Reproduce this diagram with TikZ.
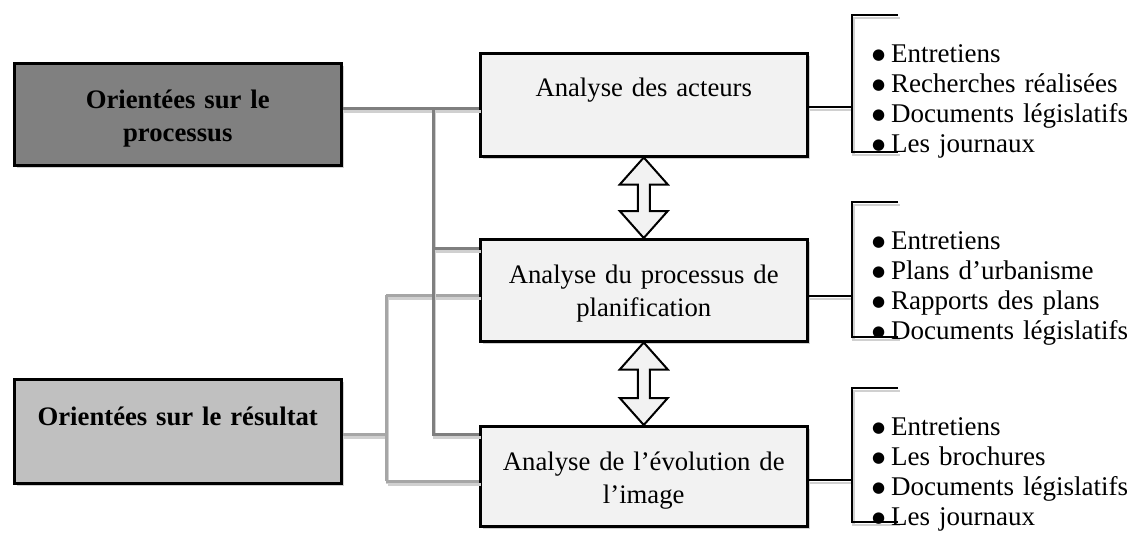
\documentclass[tikz,border=0pt]{standalone}
\usepackage{fontspec}
\setmainfont{Liberation Serif}
\newfontfamily\symfont{DejaVu Sans}
\usetikzlibrary{calc,shadows}

\definecolor{procgray}{HTML}{808080}
\definecolor{resgray}{HTML}{C0C0C0}
\definecolor{boxfill}{HTML}{F2F2F2}
\definecolor{darkline}{HTML}{7F7F7F}
\definecolor{lightline}{HTML}{A6A6A6}
\definecolor{shadowgray}{HTML}{D0D0D0}

\tikzset{
  box/.style={draw=black, line width=2.5pt, inner xsep=5pt, inner ysep=0pt,
    text width=317pt, minimum width=327pt, align=center, anchor=north west,
    node font=\fontsize{26.7}{33}\selectfont,
    general shadow={fill=shadowgray, shadow xshift=3pt, shadow yshift=-3pt}},
  list/.style={inner sep=0pt, text width=300pt, align=left, anchor=base west,
    node font=\fontsize{27}{30}\selectfont},
  lshadow/.style={draw=shadowgray},
  darkconn/.style={draw=darkline, line width=3pt},
  lightconn/.style={draw=lightline, line width=3pt},
  brk/.style={draw=black, line width=2.5pt},
  arrowbox/.style={draw=black, fill=boxfill, line width=2pt}
}

% line with its shadow
\def\sdraw#1#2{\draw[#1, lshadow, transform canvas={shift={(1.5pt,-3pt)}}] #2; \draw[#1] #2;}
\def\bul{\makebox[18pt][l]{\hspace{-1pt}\raisebox{3pt}{\fontsize{15}{0}\symfont ●}}}
\def\dblarrow#1#2{%
  \draw[arrowbox] let \p1=(#1.south), \p2=(#2.north) in
    (\x1,\y1) -- (\x1+24pt,\y1-27pt) -- (\x1+6pt,\y1-27pt) -- (\x1+6pt,\y2+27pt)
    -- (\x1+24pt,\y2+27pt) -- (\x1,\y2) -- (\x1-24pt,\y2+27pt) -- (\x1-6pt,\y2+27pt)
    -- (\x1-6pt,\y1-27pt) -- (\x1-24pt,\y1-27pt) -- cycle;}

\begin{document}
\begin{tikzpicture}[x=1pt,y=-1pt]
\useasboundingbox (0,0) rectangle (1127,533);

% left boxes
\node[box, fill=procgray, font=\bfseries, text height=45pt, text depth=57pt]
  (proc) at (13,62) {Orientées sur le\\processus};
\node[box, fill=resgray, font=\bfseries, text height=46pt, text depth=58pt]
  (res) at (13,378) {Orientées sur le résultat};

% analysis boxes
\node[box, fill=boxfill, text height=43pt, text depth=60pt]
  (acteurs) at (479,52) {Analyse des acteurs};
\node[box, fill=boxfill, text height=44pt, text depth=58pt]
  (planif) at (479,238) {Analyse du processus de\\planification};
\node[box, fill=boxfill, text height=44pt, text depth=56pt]
  (evol) at (479,425) {Analyse de l’évolution de\\l’image};

% junctions
\coordinate (j1) at (433,108);
\coordinate (j2) at (433,248);
\coordinate (j3) at (433,434);
\coordinate (k0) at (386,434);
\coordinate (k1) at (386,295);
\coordinate (k2) at (386,481);

% result connectors (light)
\sdraw{lightconn}{(res.east |- k0) -- (k0)}
\sdraw{lightconn}{(k1) -- (k2)}
\sdraw{lightconn}{(k1) -- (planif.west |- k1)}
\sdraw{lightconn}{(k2) -- (evol.west |- k2)}

% process connectors (dark)
\sdraw{darkconn}{(proc.east |- j1) -- (acteurs.west |- j1)}
\sdraw{darkconn}{(j1) -- (j3) -- (evol.west |- j3)}
\sdraw{darkconn}{(j2) -- (planif.west |- j2)}

% double arrows
\dblarrow{acteurs}{planif}
\dblarrow{planif}{evol}

% brackets
\coordinate (m1) at (852,107);
\coordinate (m2) at (852,296);
\coordinate (m3) at (852,480);
\sdraw{brk}{(acteurs.east |- m1) -- (m1)}
\sdraw{brk}{(898,15) -- (852,15) -- (852,152) -- (898,152)}
\sdraw{brk}{(planif.east |- m2) -- (m2)}
\sdraw{brk}{(898,202) -- (852,202) -- (852,337) -- (898,337)}
\sdraw{brk}{(evol.east |- m3) -- (m3)}
\sdraw{brk}{(898,388) -- (852,388) -- (852,522) -- (898,522)}

% lists
\node[list] (l1) at (873,62) {\bul Entretiens\\\bul Recherches réalisées\\\bul Documents législatifs\\\bul Les journaux};
\node[list] (l2) at (873,249) {\bul Entretiens\\\bul Plans d’urbanisme\\\bul Rapports des plans\\\bul Documents législatifs};
\node[list] (l3) at (873,435) {\bul Entretiens\\\bul Les brochures\\\bul Documents législatifs\\\bul Les journaux};

\end{tikzpicture}
\end{document}
